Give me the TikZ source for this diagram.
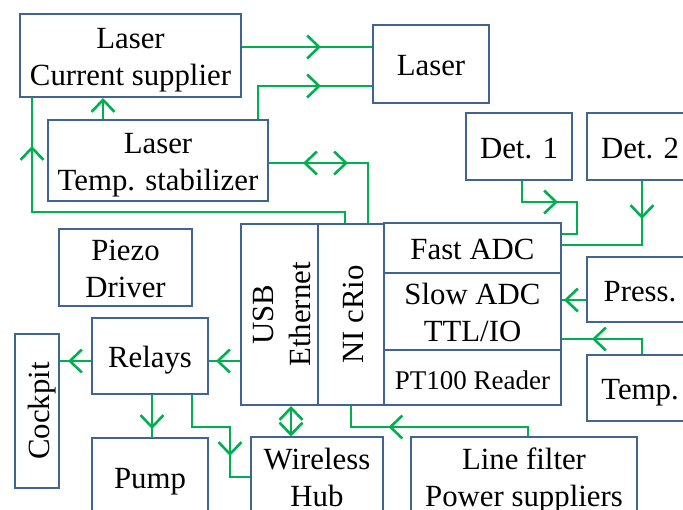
\documentclass[tikz,border=0pt]{standalone}
\usepackage{fontspec}
\setmainfont{Liberation Serif}
\usetikzlibrary{arrows.meta,decorations.markings}
\definecolor{boxblue}{RGB}{65,100,150}
\definecolor{wiregreen}{RGB}{0,176,80}
\tikzset{
  box/.style={draw=boxblue, line width=2pt, inner sep=0pt, align=center,
    font=\fontsize{30.8}{37}\selectfont, text height=32pt, text depth=8pt},
  two/.style={text height=69pt},
  wire/.style={wiregreen, line width=2.6pt},
  arrat/.style={postaction={decorate, decoration={markings,
    mark=at position #1 with {\arrow{>}}}}},
  rarrat/.style={postaction={decorate, decoration={markings,
    mark=at position #1 with {\arrowreversed{>}}}}},
  >={Straight Barb[length=12pt,width=23pt]}
}
\begin{document}
\begin{tikzpicture}[x=1pt, y=-1pt]
\useasboundingbox (0,0) rectangle (683,510);
\node[box, two, minimum width=221pt, minimum height=83pt] (cur) at (130.5,55.5) {Laser\\Current supplier};
\node[box, two, minimum width=220pt, minimum height=81pt] (stab) at (158,160.5) {Laser\\Temp. stabilizer};
\node[box, minimum width=116pt, minimum height=78pt] (laser) at (431,64) {Laser};
\node[box, minimum width=106pt, minimum height=67pt] (det1) at (519,146.5) {Det. 1};
\node[box, minimum width=106pt, minimum height=67pt] (det2) at (640,146.5) {Det. 2};
\node[box, two, minimum width=133pt, minimum height=77pt] (piezo) at (125.5,267.5) {Piezo\\Driver};
\node[box, minimum width=116pt, minimum height=76pt] (relays) at (150,356) {Relays};
\node[box, rotate=90, minimum width=154pt, minimum height=44pt] (cockpit) at (37,411) {Cockpit};
\node[box, minimum width=116pt, minimum height=78pt] (pump) at (150,477) {Pump};
\node[box, two, minimum width=132pt, minimum height=76pt] (hub) at (317,476) {Wireless\\Hub};
\node[box, two, rotate=90, minimum width=181pt, minimum height=77pt] (usb) at (279.5,314.5) {USB\\Ethernet};
\node[box, rotate=90, minimum width=181pt, minimum height=66pt] (cri) at (351,314.5) {NI cRio};
\node[box, minimum width=177pt, minimum height=50pt] (fadc) at (472.5,248) {Fast ADC};
\node[box, two, minimum width=177pt, minimum height=77pt] (sadc) at (472.5,311.5) {Slow ADC\\TTL/IO};
\node[box, minimum width=177pt, minimum height=55pt, font=\fontsize{27}{32}\selectfont] (pt) at (472.5,377.5) {PT100 Reader};
\node[box, minimum width=106pt, minimum height=65pt] (press) at (640,289.5) {Press.};
\node[box, minimum width=106pt, minimum height=66pt] (temp) at (640,388) {Temp.};
\node[box, two, minimum width=226pt, minimum height=76pt] (filt) at (524,476) {Line filter\\Power suppliers};

\draw[wire, arrat=79pt] (cur.east |- 0,47) -- (laser.west |- 0,47);
\draw[wire, arrat=96pt] (stab.north -| 258,0) |- (laser.west |- 0,86);
\draw[wire, ->] (stab.north -| 103,0) -- (cur.south -| 103,0);
\draw[wire, rarrat=34pt, arrat=79pt] (stab.east |- 0,163) -| (cri.east -| 368,0);
\draw[wire, arrat=390pt] (cri.east -| 345,0) |- (32,212) -- (cur.south -| 32,0);
\draw[wire, arrat=57pt] (det1.south -| 522,0) |- (577,202) |- (fadc.east |- 0,234);
\draw[wire, arrat=38pt] (det2.south -| 642,0) |- (fadc.east |- 0,245);
\draw[wire, arrat=22pt] (press.west |- 0,300) -- (sadc.east |- 0,300);
\draw[wire, arrat=65pt] (temp.north -| 642,0) |- (sadc.east |- 0,339);
\draw[wire, arrat=24pt] (usb.north |- 0,361) -- (relays.east |- 0,361);
\draw[wire, arrat=23pt] (relays.west |- 0,361) -- (cockpit.south |- 0,361);
\draw[wire, arrat=34pt] (relays.south -| 152,0) -- (pump.north -| 152,0);
\draw[wire, arrat=99pt] (relays.south -| 192,0) |- (230,427) |- (hub.west |- 0,477);
\draw[wire, <->] (usb.west -| 291,0) -- (hub.north -| 291,0);
\draw[wire, arrat=149pt] (filt.north -| 528,0) |- (351,427) -- (cri.west -| 351,0);
\end{tikzpicture}
\end{document}
